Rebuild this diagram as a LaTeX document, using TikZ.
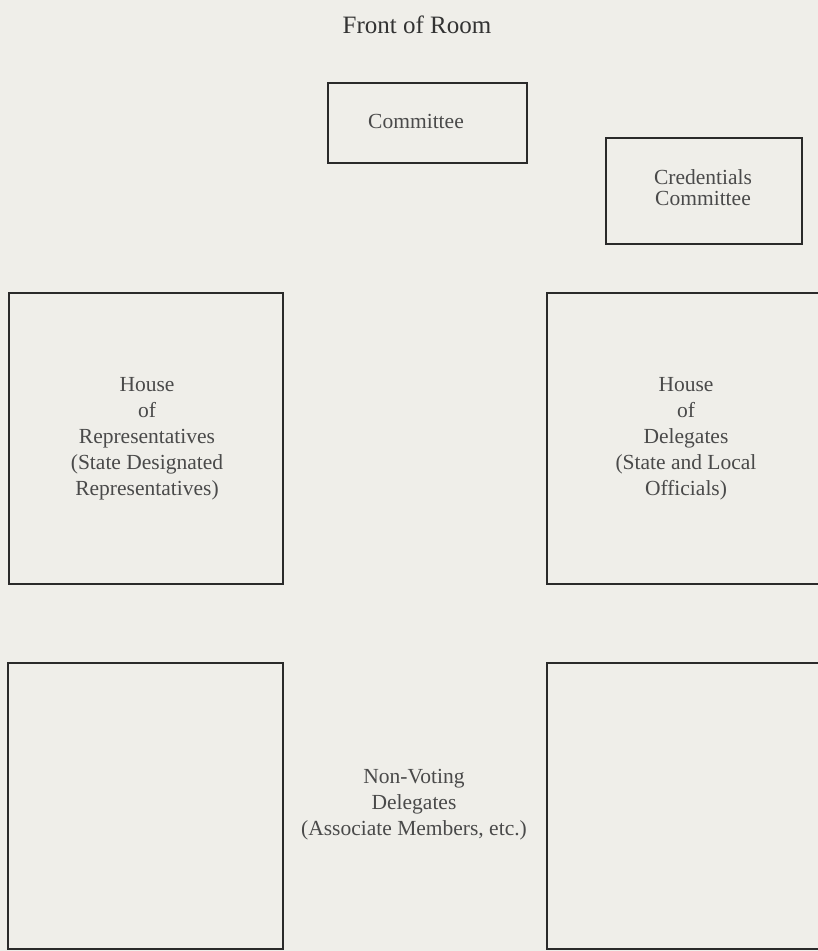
\documentclass[tikz,border=0pt]{standalone}
\usepackage{fontspec}
\setmainfont{Liberation Serif}
\definecolor{paper}{HTML}{EFEEE9}
\definecolor{ink}{HTML}{4A4A4A}
\definecolor{edge}{HTML}{2A2A2A}
\begin{document}
\begin{tikzpicture}[x=1pt,y=-1pt,
  room/.style={draw=edge,line width=2.2pt,inner sep=0pt,outer sep=0pt},
  lbl/.style={text=ink,align=center,inner sep=0pt,font=\fontsize{21.5}{26}\selectfont},
  heading/.style={text=black!80,inner sep=0pt,font=\fontsize{25}{30}\selectfont}]
\fill[paper] (0,0) rectangle (818,951);
\useasboundingbox (0,0) rectangle (818,951);
% boxes
\node[room,minimum width=199pt,minimum height=80pt] (committee) at (427.5,123) {};
\node[room,minimum width=196pt,minimum height=106pt] (credentials) at (704,191) {};
\node[room,minimum width=274pt,minimum height=291pt] (reps) at (146,438.5) {};
\node[room,minimum width=274pt,minimum height=291pt] (delegates) at (684,438.5) {};
\node[room,minimum width=275pt,minimum height=286pt] (nvleft) at (145.5,806) {};
\node[room,minimum width=274pt,minimum height=286pt] (nvright) at (684,806) {};
% texts
\node[heading] (front) at (417,25) {Front of Room};
\node[lbl] (committeetext) at (416,121) {Committee};
\node[lbl,font=\fontsize{21.5}{21}\selectfont] (credtext) at (703,188) {Credentials\\Committee};
\node[lbl] (repstext) at (147,439) {House\\of\\Representatives\\(State Designated\\Representatives)};
\node[lbl] (delegatestext) at (686,439) {House\\of\\Delegates\\(State and Local\\Officials)};
\node[lbl] (nvtext) at (414,805) {Non-Voting\\Delegates\\(Associate Members, etc.)};
\end{tikzpicture}
\end{document}
